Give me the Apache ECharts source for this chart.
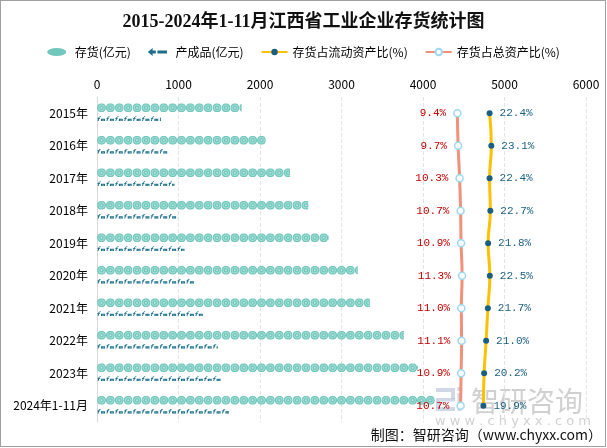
<!DOCTYPE html>
<html><head><meta charset="utf-8">
<script src="https://cdn.jsdelivr.net/npm/echarts@6/dist/echarts.min.js"></script>
<style>html,body{margin:0;padding:0;background:#fff}#c{width:607px;height:448px}#b{position:absolute;left:0;top:0;width:606px;height:447px;box-sizing:border-box;border:1px solid #a0a0a0;pointer-events:none}</style>
</head><body><div id="c"></div><div id="b"></div>
<script>
const categories = ['2015年','2016年','2017年','2018年','2019年','2020年','2021年','2022年','2023年','2024年1-11月'];
const inventory = [1775, 2070, 2368, 2592, 2845, 3200, 3348, 3765, 3940, 4145];
const finished = [784, 876, 950, 988, 1073, 1204, 1314, 1482, 1522, 1620];
const ratioCurrent = [22.4, 23.1, 22.4, 22.7, 21.8, 22.5, 21.7, 21.0, 20.2, 19.9];
const ratioTotal = [9.4, 9.7, 10.3, 10.7, 10.9, 11.3, 11.0, 11.1, 10.9, 10.7];
const xTicks = [0, 1000, 2000, 3000, 4000, 5000, 6000];

const svgUri = s => 'image://data:image/svg+xml;charset=utf-8,' + encodeURIComponent(s);
const circleSym = svgUri("<svg xmlns='http://www.w3.org/2000/svg' width='18' height='18' viewBox='0 0 18 18'><circle cx='9' cy='9' r='9' fill='#72c7bd'/><circle cx='9' cy='9' r='5.6' fill='none' stroke='#b9e6e0' stroke-width='1.6'/><circle cx='9' cy='9' r='2' fill='#b9e6e0'/></svg>");
const prodSym = svgUri("<svg xmlns='http://www.w3.org/2000/svg' width='18' height='10' viewBox='0 0 18 10'><path d='M2,10 L4,2.5 Q4.8,0.3 7.5,0.6' fill='none' stroke='#1d6f8c' stroke-width='2'/><rect x='1' y='3.5' width='5' height='1.6' fill='#1d6f8c'/><rect x='8' y='5' width='8' height='5' fill='#1d6f8c'/><rect x='10.5' y='6.5' width='1' height='3.5' fill='#9fd1dc'/><rect x='13' y='6.5' width='1' height='3.5' fill='#9fd1dc'/></svg>");

const chart = echarts.init(document.getElementById('c'), null, {renderer: 'canvas'});
const CJK = "'Noto Sans CJK SC', sans-serif";
const MONO = "'Liberation Mono', 'DejaVu Sans Mono', monospace";
const wm = 'rgba(150,150,150,0.45)';
const lg = 'rgba(170,182,210,0.55)';
chart.setOption({
  backgroundColor: '#fff',
  animation: false,
  title: {
    text: '2015-2024年1-11月江西省工业企业存货统计图',
    left: 'center', top: 8,
    textStyle: {fontFamily: "'Liberation Serif', 'Noto Sans CJK SC', serif", fontSize: 18, fontWeight: 'bold', color: '#111'}
  },
  legend: {
    top: 41, left: 'center', itemGap: 17, itemWidth: 26, itemHeight: 8,
    textStyle: {fontFamily: CJK, fontSize: 12, color: '#000'},
    data: [
      {name: '存货(亿元)', icon: 'path://M0,5 A12,5 0 1,1 24,5 A12,5 0 1,1 0,5 Z', itemStyle: {color: '#72c7bd'}},
      {name: '产成品(亿元)', icon: 'path://M0,6 L6,1 L6,4 L10,4 L10,8 L6,8 L6,11 Z M12,4 L24,4 L24,8 L12,8 Z', itemStyle: {color: '#1d6f8c'}},
      {name: '存货占流动资产比(%)'},
      {name: '存货占总资产比(%)'}
    ]
  },
  grid: {left: 97, right: 21, top: 97, bottom: 26, containLabel: false, outerBoundsMode: 'none'},
  xAxis: [
    {type: 'value', position: 'top', min: xTicks[0], max: xTicks[xTicks.length - 1], interval: 1000,
     axisLine: {show: false}, axisTick: {show: false},
     axisLabel: {color: '#000', fontSize: 12, fontFamily: CJK, margin: 7, formatter: v => String(v)},
     splitLine: {show: true, lineStyle: {color: '#e4e4e4', type: 'dashed', width: 1}}},
    {type: 'value', show: false, min: -136, max: 61.3, splitLine: {show: false}}
  ],
  yAxis: {
    type: 'category', data: categories, inverse: true,
    axisLine: {show: true, lineStyle: {color: '#d9d9d9'}}, axisTick: {show: false},
    axisLabel: {color: '#000', fontSize: 12, fontFamily: CJK, margin: 9}
  },
  series: [
    {name: '存货(亿元)', type: 'pictorialBar', xAxisIndex: 0, data: inventory,
     symbol: circleSym, symbolSize: [9, 9], symbolRepeat: 'fixed', symbolClip: true, symbolMargin: 0,
     symbolBoundingData: 6000, symbolPosition: 'start', symbolOffset: [0, -5.5], barWidth: 10, barGap: '-100%',
     itemStyle: {color: '#72c7bd'}, z: 2},
    {name: '产成品(亿元)', type: 'pictorialBar', xAxisIndex: 0, data: finished,
     symbol: prodSym, symbolSize: [9, 5], symbolRepeat: 'fixed', symbolClip: true, symbolMargin: 0,
     symbolBoundingData: 6000, symbolPosition: 'start', symbolOffset: [0, 5.5], barWidth: 10, barGap: '-100%',
     itemStyle: {color: '#1d6f8c'}, z: 2},
    {name: '存货占流动资产比(%)', type: 'line', xAxisIndex: 1, data: ratioCurrent, smooth: true,
     symbol: 'circle', symbolSize: 6, lineStyle: {color: '#ffc000', width: 3},
     itemStyle: {color: '#1b5f80', borderWidth: 0},
     label: {show: true, position: 'right', distance: 7, color: '#1b5f80', fontFamily: MONO, fontSize: 11,
       formatter: p => p.value.toFixed(1) + '%'}, z: 4},
    {name: '存货占总资产比(%)', type: 'line', xAxisIndex: 1, data: ratioTotal, smooth: true,
     symbol: 'circle', symbolSize: 7, lineStyle: {color: '#f0917b', width: 3},
     itemStyle: {color: '#ffffff', borderColor: '#9dd8ef', borderWidth: 1.5},
     label: {show: true, position: 'left', distance: 7, color: '#c00000', fontFamily: MONO, fontSize: 11,
       formatter: p => p.value.toFixed(1) + '%'}, z: 4}
  ],
  graphic: [
    {type: 'group', z: 100, children: [
      {type: 'rect', shape: {x: 436, y: 388, width: 19, height: 4}, style: {fill: lg}},
      {type: 'rect', shape: {x: 451, y: 392, width: 4, height: 7}, style: {fill: lg}},
      {type: 'rect', shape: {x: 436, y: 398, width: 19, height: 3.5}, style: {fill: lg}},
      {type: 'rect', shape: {x: 436, y: 401, width: 4, height: 7}, style: {fill: lg}},
      {type: 'rect', shape: {x: 436, y: 407, width: 19, height: 4}, style: {fill: lg}},
      {type: 'rect', shape: {x: 457.5, y: 393, width: 4, height: 18}, style: {fill: lg}},
      {type: 'rect', shape: {x: 457.5, y: 387, width: 4, height: 4}, style: {fill: lg}},
      {type: 'text', x: 471, y: 387, style: {text: '智研咨询', font: "28px 'Noto Sans CJK SC'", fill: wm}},
      {type: 'text', x: 435, y: 415, style: {text: 'w w w . c h y x x . c o m', font: "13px 'DejaVu Sans'", fill: wm}}
    ]},
    {type: 'text', right: 5, bottom: 6, z: 101,
     style: {text: '制图：智研咨询（www.chyxx.com）', font: "14px 'Noto Sans CJK SC'", fill: '#111'}}
  ]
});
</script></body></html>
